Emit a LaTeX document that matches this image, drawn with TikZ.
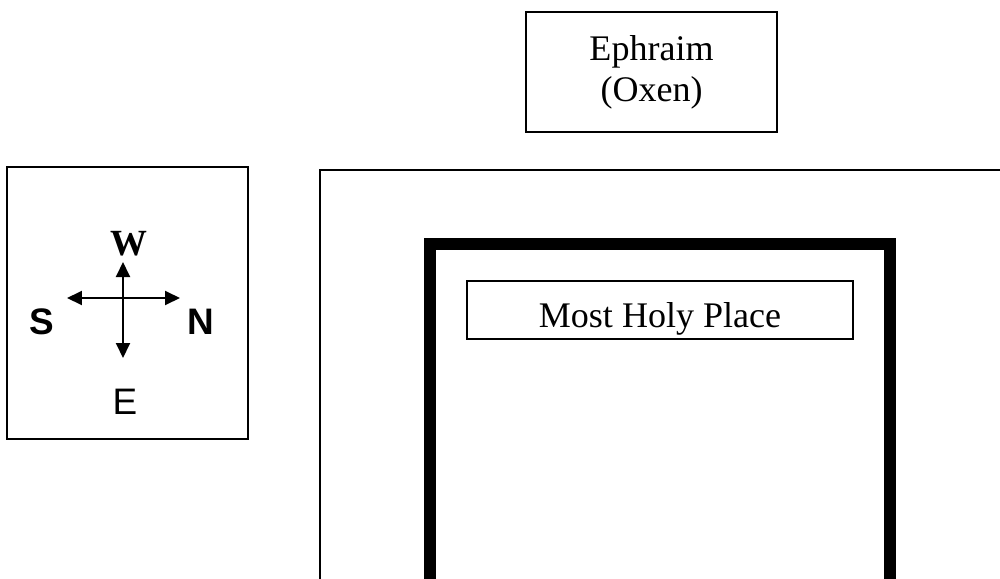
\documentclass[tikz,border=0pt]{standalone}
\usepackage{fontspec}
\setmainfont{Liberation Serif}
\newfontfamily\arialfont{Liberation Sans}
\usetikzlibrary{arrows.meta}
\tikzset{box/.style={draw, line width=0.9pt, inner sep=0pt},
 wall/.style={line width=0.24cm, line join=miter},
 bigtext/.style={font=\fontsize{20.5}{23.3}\selectfont},
 sanstext/.style={font=\fontsize{21}{24}\selectfont\arialfont},
 pointer/.style={line width=1.1pt, {Triangle[length=0.3cm, width=0.28cm]}-{Triangle[length=0.3cm, width=0.28cm]}},
 }

\begin{document}
\begin{tikzpicture}[x=0.02cm, y=-0.02cm]
        \clip (0,0) rectangle (1000,578);

        \node[box, bigtext, align=center, minimum width=5.02cm, minimum height=2.4cm] (ephraim) at (651.5,72) {Ephraim\\(Oxen)};

        \node[box, minimum width=4.82cm, minimum height=5.44cm] (compass) at (127.5,303) {};
        \node[bigtext, font=\fontsize{21}{24}\selectfont\bfseries] (west) at (129,244) {W};
        \node[sanstext, font=\fontsize{21}{24}\selectfont\arialfont\bfseries] (south) at (42,322) {S};
        \node[sanstext, font=\fontsize{21}{24}\selectfont\arialfont\bfseries] (north) at (201,322) {N};
        \node[sanstext] (east) at (125,402) {E};
        \coordinate (tipS) at (67,298);
        \coordinate (tipN) at (180,298);
        \coordinate (tipW) at (123,262);
        \coordinate (tipE) at (123,358);
        \draw[pointer] (tipS) -- (tipN);
        \draw[pointer] (tipW) -- (tipE);

        \draw[line width=0.9pt] (320,620) -- (320,170) -- (1040,170);
        \draw[wall] (430,620) -- (430,244) -- (890,244) -- (890,620);

        \node[box, bigtext, minimum width=7.72cm, minimum height=1.16cm, text height=0.68cm, text depth=0pt] (holyplace) at (660,310) {Most Holy Place};
    \end{tikzpicture}
\end{document}
